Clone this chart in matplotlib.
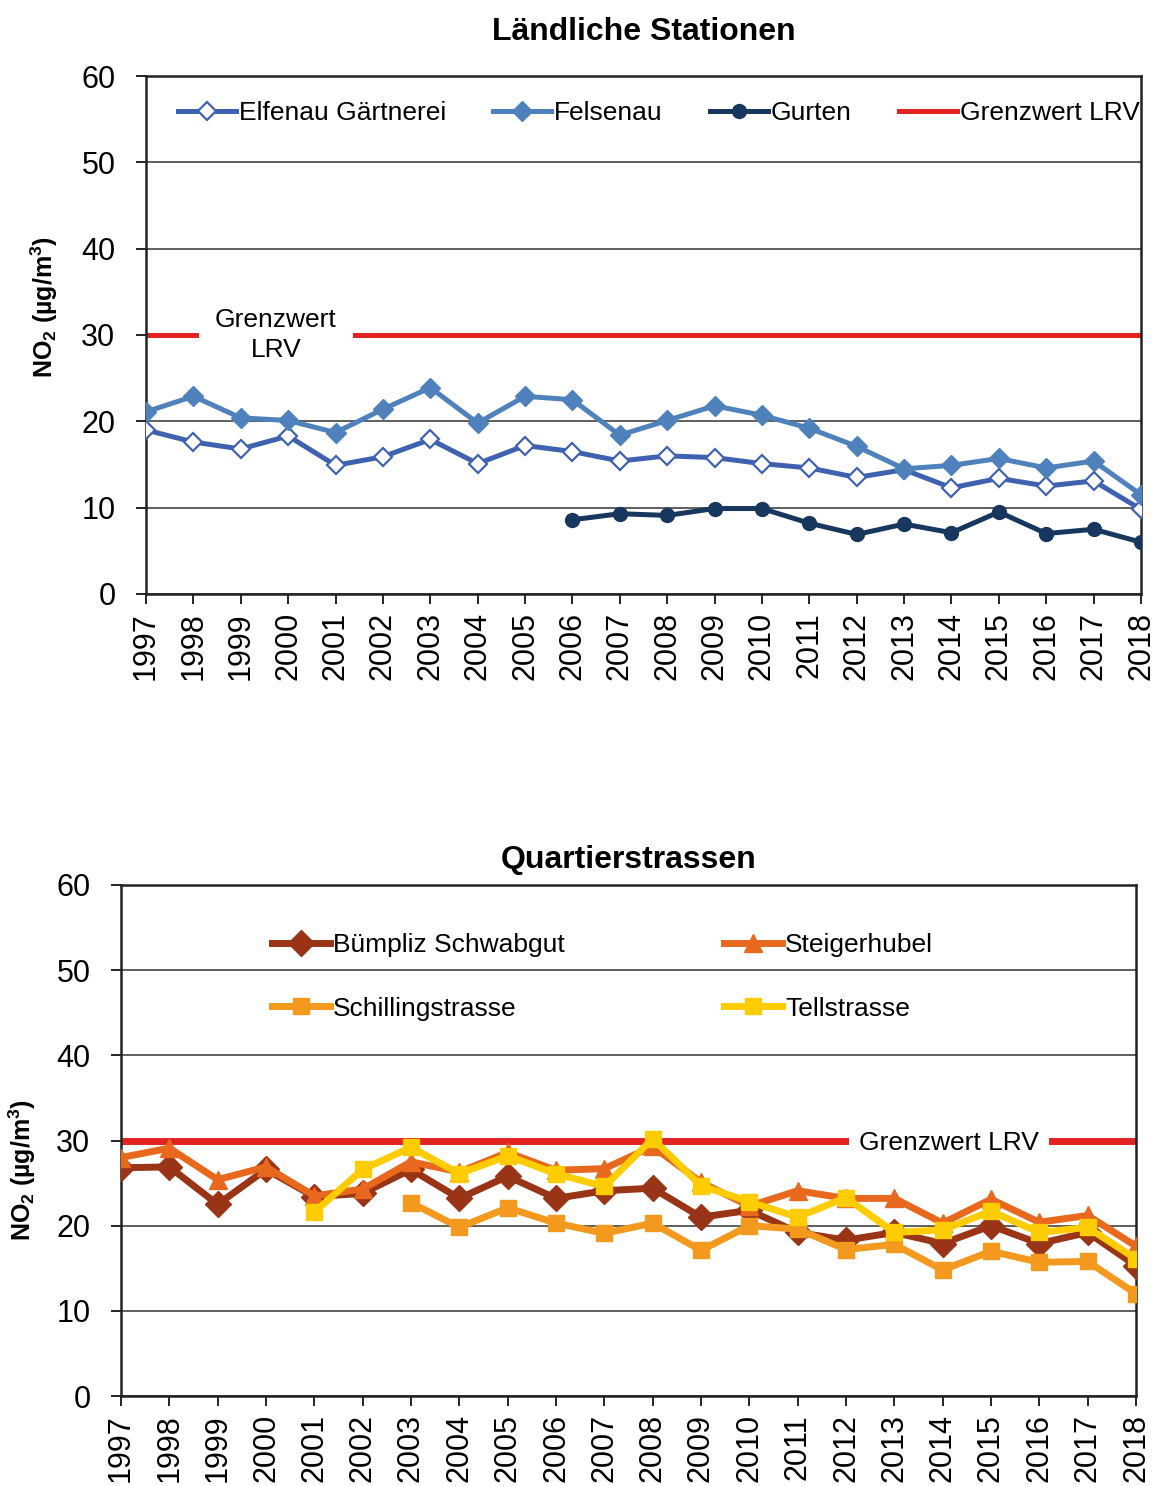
import numpy as np
import matplotlib
matplotlib.use('Agg')
import matplotlib.pyplot as plt

plt.rcParams['font.family'] = ['Liberation Sans', 'DejaVu Sans']
plt.rcParams['mathtext.fontset'] = 'custom'
plt.rcParams['mathtext.rm'] = 'Liberation Sans'
plt.rcParams['mathtext.bf'] = 'Liberation Sans:bold'

# data
years = list(range(1997, 2019))
years_gurten = list(range(2006, 2019))
years_schilling = list(range(2003, 2019))
years_tell = list(range(2001, 2019))

elfenau = [19.0, 17.6, 16.8, 18.3, 14.9, 15.9, 17.9, 15.1, 17.2, 16.5, 15.4,
           16.0, 15.8, 15.1, 14.6, 13.5, 14.4, 12.3, 13.4, 12.5, 13.1, 9.8]
felsenau = [21.1, 22.9, 20.4, 20.1, 18.7, 21.4, 23.9, 19.8, 22.9, 22.5, 18.4,
            20.1, 21.8, 20.7, 19.2, 17.1, 14.5, 14.9, 15.7, 14.6, 15.4, 11.5]
gurten = [8.6, 9.3, 9.1, 9.9, 9.9, 8.2, 6.9, 8.1, 7.1, 9.5, 7.0, 7.5, 6.0]

buempliz = [26.8, 26.9, 22.5, 26.6, 23.4, 23.8, 26.6, 23.2, 25.8, 23.2, 24.1,
            24.4, 21.0, 21.8, 19.2, 18.3, 19.2, 17.9, 20.0, 17.9, 19.2, 15.3]
steigerhubel = [28.0, 29.1, 25.4, 26.9, 23.5, 24.3, 27.5, 26.3, 28.6, 26.5, 26.7,
                29.3, 25.1, 22.3, 24.1, 23.2, 23.2, 20.3, 23.1, 20.4, 21.2, 17.6]
schilling = [22.7, 19.8, 22.1, 20.3, 19.1, 20.3, 17.1, 20.0, 19.6, 17.2, 17.8,
             14.8, 17.0, 15.7, 15.8, 12.0]
tell = [21.6, 26.6, 29.2, 26.1, 28.2, 26.1, 24.6, 30.2, 24.7, 22.8, 21.0,
        23.3, 19.2, 19.5, 21.7, 19.2, 19.8, 16.1]

grenzwert = 30
yticks = [0, 10, 20, 30, 40, 50, 60]

fig = plt.figure(figsize=(11.56, 14.86), dpi=100)
ax1 = fig.add_axes([146/1156, 1-594/1486, 995/1156, 518/1486])
ax2 = fig.add_axes([121/1156, 1-1396/1486, 1015/1156, 511/1486])


def style_axes(ax):
    ax.set_xlim(1997, 2018)
    ax.set_ylim(0, 60)
    ax.set_yticks(yticks)
    ax.set_xticks(years)
    ax.set_xticklabels([str(y) for y in years], rotation=90)
    ax.tick_params(axis='both', labelsize=22, length=7, width=1.2, direction='out')
    ax.tick_params(axis='y', pad=15)
    ax.tick_params(axis='x', pad=6)
    ax.yaxis.grid(True, color='#333333', linewidth=1.1)
    ax.set_axisbelow(True)
    for s in ax.spines.values():
        s.set_linewidth(1.8)
        s.set_color('#222222')


# --------------------------------------------------
# top: Laendliche Stationen
style_axes(ax1)
ax1.plot(years, elfenau, color='#3F62B0', lw=3.6, marker='D', ms=9,
         mfc='white', mec='#3F62B0', mew=1.6, label='Elfenau Gärtnerei', zorder=3)
ax1.plot(years, felsenau, color='#4F81BD', lw=3.6, marker='D', ms=10,
         label='Felsenau', zorder=4)
ax1.plot(years_gurten, gurten, color='#17375E', lw=3.6, marker='o', ms=10,
         label='Gurten', zorder=5)
ax1.plot(years, [grenzwert]*len(years), color='#E32322', lw=3.6, label='Grenzwert LRV', zorder=1)
ax1.text(1999.74, 30.0, 'Grenzwert\nLRV', fontsize=19, ha='center', va='center',
         linespacing=1.3, zorder=1.6,
         bbox=dict(facecolor='white', edgecolor='none', boxstyle='square,pad=0.62'))
ax1.set_title('Ländliche Stationen', fontsize=23, fontweight='bold', pad=26)
ax1.legend(loc='upper left', bbox_to_anchor=(0.032, 0.951), ncol=4, frameon=False,
           fontsize=19, handlelength=2.2, handletextpad=0.1, columnspacing=1.8,
           borderpad=0, borderaxespad=0)

# --------------------------------------------------
# bottom: Quartierstrassen
style_axes(ax2)
ax2.plot(years, [grenzwert]*len(years), color='#E32322', lw=5, zorder=1)
l_bue, = ax2.plot(years, buempliz, color='#9A3416', lw=5, marker='D', ms=13,
                  label='Bümpliz Schwabgut', zorder=3)
l_ste, = ax2.plot(years, steigerhubel, color='#E8681E', lw=5, marker='^', ms=13,
                  label='Steigerhubel', zorder=4)
l_sch, = ax2.plot(years_schilling, schilling, color='#F39A1E', lw=5, marker='s', ms=11,
                  label='Schillingstrasse', zorder=5)
l_tel, = ax2.plot(years_tell, tell, color='#FFCC00', lw=5, marker='s', ms=11,
                  label='Tellstrasse', zorder=6)
ax2.text(2014.13, 29.65, 'Grenzwert LRV', fontsize=19, ha='center', va='center', zorder=1.6,
         bbox=dict(facecolor='white', edgecolor='none', boxstyle='square,pad=0.38'))
ax2.set_title('Quartierstrassen', fontsize=23, fontweight='bold', pad=12)
# legend filled row by row
ax2.legend([l_bue, l_sch, l_ste, l_tel],
           ['Bümpliz Schwabgut', 'Schillingstrasse', 'Steigerhubel', 'Tellstrasse'],
           loc='upper left', bbox_to_anchor=(0.149, 0.906), ncol=2, frameon=False,
           fontsize=19, handlelength=2.2, handletextpad=0.1, columnspacing=6.05,
           labelspacing=1.5, borderpad=0, borderaxespad=0)

ylab = r'NO$_\mathbf{2}$ (µg/m$^\mathbf{3}$)'
fig.text(44/1156, 1-307/1486, ylab, rotation=90, fontsize=18, fontweight='bold',
         ha='center', va='center')
fig.text(22/1156, 1-1170/1486, ylab, rotation=90, fontsize=18, fontweight='bold',
         ha='center', va='center')

fig.savefig('out.png', dpi=100)
